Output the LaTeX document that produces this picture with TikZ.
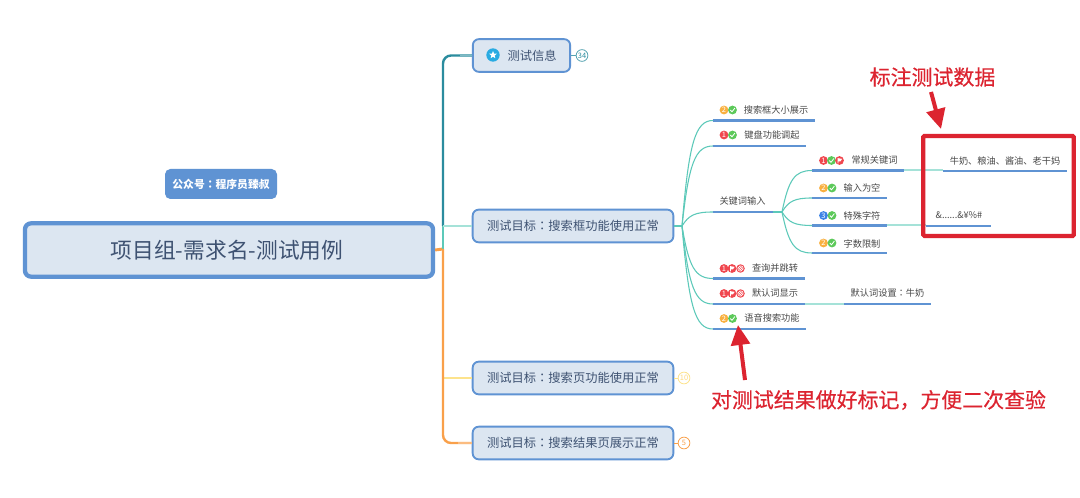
\documentclass[tikz,border=0pt]{standalone}
\usepackage{fontspec}
\setmainfont{Noto Sans CJK SC}
\newfontfamily\tcfont{Noto Sans CJK TC}
\newfontfamily\redfont[FakeBold=0.35]{Noto Sans CJK SC}
\newcommand\cln{{\tcfont ：}}
\usetikzlibrary{arrows.meta,shapes.geometric,calc}
\definecolor{boxfill}{HTML}{DCE6F1}
\definecolor{boxline}{HTML}{5F93D3}
\definecolor{boxtext}{HTML}{3E5272}
\definecolor{leaftext}{HTML}{484848}
\definecolor{tealdark}{HTML}{2B8C9E}
\definecolor{tealline}{HTML}{5CC9B9}
\definecolor{teallight}{HTML}{A5E2D8}
\definecolor{orangeline}{HTML}{F9A04A}
\definecolor{yellowline}{HTML}{FDE38C}
\definecolor{redmark}{HTML}{DC2430}
\definecolor{pred}{HTML}{F0474F}
\definecolor{porange}{HTML}{F9B040}
\definecolor{pblue}{HTML}{3B82E6}
\definecolor{pgreen}{HTML}{5CC95A}
\definecolor{staricn}{HTML}{29ABE2}
\tikzset{
  topic/.style={draw=boxline,fill=boxfill,line width=1.4pt,rounded corners=4.5pt,text=boxtext,font=\fontsize{9.2pt}{11pt}\selectfont,inner sep=0pt,minimum height=24.5pt},
  rootnode/.style={draw=boxline,fill=boxfill,line width=3.2pt,rounded corners=4.5pt,text=boxtext,font=\fontsize{16.3pt}{19pt}\selectfont,inner sep=0pt},
  note/.style={fill=boxline,rounded corners=4pt,text=white,font=\bfseries\fontsize{8.1pt}{10pt}\selectfont,inner sep=0pt},
  leaftxt/.style={text=leaftext,font=\fontsize{6.9pt}{8pt}\selectfont,inner sep=0pt},
  uline/.style={draw=boxline,line width=2pt},
  link/.style={draw=tealline,line width=0.8pt},
  linklight/.style={draw=teallight,line width=1.5pt},
  prio/.style={circle,inner sep=0pt,minimum size=6.6pt,text=white,font=\fontsize{5.6pt}{6pt}\selectfont},
  badge/.style={circle,draw,fill=white,inner sep=0pt,minimum size=8.8pt,line width=0.6pt,font=\fontsize{5.6pt}{6pt}\selectfont},
  redtxt/.style={text=redmark,font=\redfont\fontsize{15.7pt}{18pt}\selectfont,inner sep=0pt},
  redarrow/.style={draw=redmark,line width=3pt,-{Triangle[width=14pt,length=15pt]}},
}
% digit marker
\newcommand\markP[4]{\node[prio,fill=#3] (#1) at (#2) {#4};}
% tick marker
\newcommand\markT[2]{\node[prio,fill=pgreen] (#1) at (#2) {};
  \draw[white,line width=0.6pt] ($(#1)+(-2.2,0)$) -- ($(#1)+(-0.5,1.8)$) -- ($(#1)+(2.4,-2)$);}
% flag marker
\newcommand\markF[2]{\node[prio,fill=pred] (#1) at (#2) {};
  \fill[white] ($(#1)+(-2,-2.4)$) -- ($(#1)+(2.6,-1.6)$) -- ($(#1)+(1,0.8)$) -- ($(#1)+(-1.2,0.8)$) -- ($(#1)+(-1.2,2.8)$) -- ($(#1)+(-2,2.8)$) -- cycle;}
% struck marker
\newcommand\markB[2]{\node[prio,draw=pred,fill=white,line width=0.7pt,minimum size=5.6pt] (#1) at (#2) {};
  \draw[pred,line width=0.5pt] ($(#1)+(-2.4,-2.4)$) -- ($(#1)+(2.4,2.4)$);
  \draw[pred,line width=0.4pt] ($(#1)+(-0.6,-3)$) -- ($(#1)+(3,0.6)$);
  \draw[pred,line width=0.4pt] ($(#1)+(-3,-0.6)$) -- ($(#1)+(0.6,3)$);}
% leaf: name, x1, x2, underline y, text centre x, text y, text
\newcommand\leaf[7]{\coordinate (#1-l) at (#2,#4);\coordinate (#1-r) at (#3,#4);
  \draw[uline] (#1-l) -- (#1-r);
  \node[leaftxt] (#1) at (#5,#6) {#7};}
% curved connector
\newcommand\curve[2]{\draw[link] let \p1=(#1),\p2=(#2) in (\p1) .. controls ({\x1+0.22*(\x2-\x1)},{\y1+0.78*(\y2-\y1)}) and ({\x1+0.42*(\x2-\x1)},\y2) .. (\p2);}
\begin{document}
\begin{tikzpicture}[x=0.75pt,y=-0.75pt]
\useasboundingbox (0,0) rectangle (1080,498);
\fill[white] (0,0) rectangle (1080,498);

% main nodes
\node[rootnode,minimum width=306pt,minimum height=40pt] (root) at (229,250) {\hspace*{-3pt}项目组-需求名-测试用例};
\node[note,minimum width=84pt,minimum height=22.5pt] (noteN) at (221,184) {公众号\cln 程序员臻叔};
\node[topic,minimum width=73pt] (t1) at (521.5,55.5) {\hspace*{16pt}测试信息};
\node[topic,minimum width=150.5pt] (t2) at (573,226) {测试目标\cln 搜索框功能使用正常};
\node[topic,minimum width=150.5pt] (t3) at (573,378) {测试目标\cln 搜索页功能使用正常};
\node[topic,minimum width=150.5pt] (t4) at (573,443) {测试目标\cln 搜索结果页展示正常};

% star icon
\node[circle,fill=staricn,inner sep=0pt,minimum size=10pt] (staricon) at (493,55) {};
\node[star,star points=5,star point ratio=2.3,fill=white,inner sep=0pt,minimum size=6pt] (starmark) at (493,55) {};

% spine
\coordinate (sp) at (443,249);
\coordinate (spT) at (443,226);
\draw[orangeline,line width=2.2pt] (root.east) -- (sp);
\draw[tealdark,line width=1.8pt,rounded corners=6pt] (spT) -- (spT |- t1.west) -- (t1.west);
\draw[tealline,line width=1.8pt] (sp) -- (spT);
\draw[teallight,line width=1.2pt] (spT) -- (t2.west);
\draw[tealdark!60!white,line width=1.2pt] (460,55.5) -- (t1.west);
\draw[yellowline,line width=1.2pt] (443,378) -- (t3.west);
\draw[orangeline,line width=1.8pt,rounded corners=6pt] (sp) -- (sp |- t4.west) -- (t4.west);
\draw[orangeline!70!white,line width=1.2pt] (458,443) -- (t4.west);
\draw[orangeline,line width=1.8pt] (sp) -- (443,378);

% badges
\node[badge,draw=tealdark!80!white,text=tealdark] (b1) at (582,55.5) {34};
\node[badge,draw=yellowline,text=yellowline!90!orange] (b3) at (684,378) {10};
\node[badge,draw=orangeline,text=orangeline] (b4) at (684,443) {5};
\draw[tealdark!80!white,line width=0.6pt] (t1.east) -- (b1);
\draw[yellowline,line width=0.6pt] (t3.east) -- (b3);
\draw[orangeline,line width=0.6pt] (t4.east) -- (b4);

% hubs
\coordinate (hubA) at (682,226);
\coordinate (hubB) at (782,212);

% connectors
\draw[link] (t2.east) -- (hubA);
\coordinate (a1-l) at (713,120.5);
\coordinate (a2-l) at (713,146);
\coordinate (a3-l) at (713,212);
\coordinate (a4-l) at (713,278.5);
\coordinate (a5-l) at (713,304);
\coordinate (a6-l) at (713,329);
\coordinate (b1l-l) at (812,170.5);
\coordinate (b2l-l) at (812,198);
\coordinate (b3l-l) at (812,225.5);
\coordinate (b4l-l) at (812,253);
\curve{hubA}{a1-l}
\curve{hubA}{a2-l}
\curve{hubA}{a3-l}
\curve{hubA}{a4-l}
\curve{hubA}{a5-l}
\curve{hubA}{a6-l}
\coordinate (a3-r) at (773,212);
\draw[link] (a3-r) -- (hubB);
\curve{hubB}{b1l-l}
\curve{hubB}{b2l-l}
\curve{hubB}{b3l-l}
\curve{hubB}{b4l-l}
\draw[linklight] (904,170.5) -- (943,170.5);
\draw[linklight] (887,225.5) -- (926,225.5);
\draw[linklight] (805,304) -- (844,304);

% leaves
\leaf{a1}{713}{815}{120.5}{776}{110}{搜索框大小展示}
\leaf{a2}{713}{806}{146}{772}{135}{键盘功能调起}
\leaf{a3}{713}{773}{212}{742.5}{201.5}{关键词输入}
\leaf{a4}{713}{805}{278.5}{775}{268.5}{查询并跳转}
\leaf{a5}{713}{805}{304}{775}{293.5}{默认词显示}
\leaf{a6}{713}{806}{329}{772}{318}{语音搜索功能}
\leaf{b1l}{812}{904}{170.5}{874.5}{160.5}{常规关键词}
\leaf{b2l}{812}{887}{198}{862}{188}{输入为空}
\leaf{b3l}{812}{887}{225.5}{862}{215.5}{特殊字符}
\leaf{b4l}{812}{887}{253}{862}{243.5}{字数限制}
\leaf{c1}{943}{1067}{171}{1005}{160.5}{牛奶、粮油、酱油、老干妈}
\leaf{c2}{926}{991}{226}{959}{215.5}{\&......\&¥\%\#}
\leaf{c3}{844}{931}{304}{887.5}{293.5}{默认词设置\cln 牛奶}

% markers
\markP{m1a}{724,110}{porange}{2}\markT{m1b}{732.5,110}
\markP{m2a}{724,135}{pred}{1}\markT{m2b}{732.5,135}
\markP{m3a}{724,268.5}{pred}{1}\markF{m3b}{732,268.5}\markB{m3c}{740.5,268.5}
\markP{m4a}{724,293.5}{pred}{1}\markF{m4b}{732,293.5}\markB{m4c}{740.5,293.5}
\markP{m5a}{724,318.5}{porange}{2}\markT{m5b}{732.5,318.5}
\markP{m6a}{823.5,160.5}{pred}{1}\markT{m6b}{831.5,160.5}\markF{m6c}{839.5,160.5}
\markP{m7a}{823.5,188}{porange}{2}\markT{m7b}{832,188}
\markP{m8a}{823.5,215.5}{pblue}{3}\markT{m8b}{832,215.5}
\markP{m9a}{823.5,243}{porange}{2}\markT{m9b}{832,243}

% annotations
\node[draw=redmark,line width=3.2pt,rounded corners=1pt,minimum width=113pt,minimum height=75pt,inner sep=0pt] (redbox) at (998.5,186) {};
\node[redtxt] (label1) at (932.5,77) {标注测试数据};
\node[redtxt] (label2) at (878.5,400) {对测试结果做好标记，方便二次查验};
\coordinate (arrow1start) at (931,92);
\coordinate (arrow1end) at (941,129);
\coordinate (arrow2start) at (745,380);
\coordinate (arrow2end) at (738,325);
\draw[redarrow] (arrow1start) -- (arrow1end);
\draw[redarrow] (arrow2start) -- (arrow2end);
\end{tikzpicture}
\end{document}
